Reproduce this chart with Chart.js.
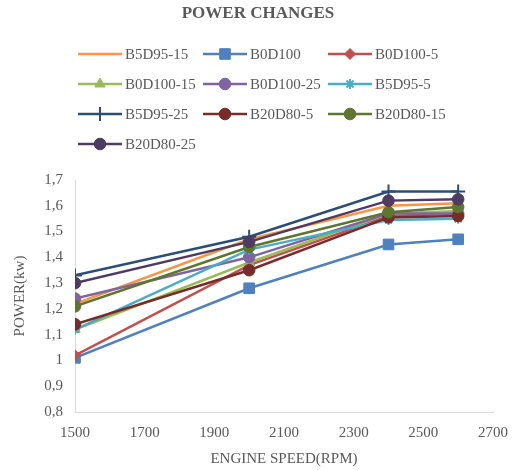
<!DOCTYPE html>
<html>
<head>
<meta charset="utf-8">
<script src="https://cdn.jsdelivr.net/npm/chart.js@4/dist/chart.umd.min.js"></script>
<style>
  body { margin: 0; background: #fff; }
  #wrap { width: 515px; height: 470px; position: relative; }
</style>
</head>
<body>
<div id="wrap"><canvas id="myChart"></canvas></div>
<script>
// engine speed values (x) and power for each blend (y)
let rpm = [1500, 2000, 2400, 2600]

let b5d95_15  = [1.22, 1.47, 1.60, 1.61]
let b0d100    = [1.01, 1.28, 1.45, 1.47]
let b0d100_5  = [1.02, 1.37, 1.56, 1.57]
let b0d100_15 = [1.12, 1.38, 1.57, 1.58]
let b0d100_25 = [1.24, 1.40, 1.57, 1.57]
let b5d95_5   = [1.12, 1.43, 1.545, 1.55]
let b5d95_25  = [1.33, 1.48, 1.655, 1.655]
let b20d80_5  = [1.14, 1.35, 1.555, 1.56]
let b20d80_15 = [1.21, 1.44, 1.575, 1.595]
let b20d80_25 = [1.30, 1.46, 1.62, 1.625]

let labels = ['B5D95-15', 'B0D100', 'B0D100-5', 'B0D100-15', 'B0D100-25',
              'B5D95-5', 'B5D95-25', 'B20D80-5', 'B20D80-15', 'B20D80-25']
let series = [b5d95_15, b0d100, b0d100_5, b0d100_15, b0d100_25,
              b5d95_5, b5d95_25, b20d80_5, b20d80_15, b20d80_25]

let colors = ['#F79646', '#4F81BD', '#C0504D', '#9BBB59', '#8064A2',
              '#4BACC6', '#2C4D75', '#772C2A', '#5F7530', '#4D3B62']
let markers = [false, 'rect', 'rectRot', 'triangle', 'circle',
               'star', 'cross', 'circle', 'circle', 'circle']
let sizes = [0, 7.5, 5.5, 6, 5.8, 5, 7, 5.8, 5.8, 5.8]

let textColor = '#595959'
let serif = '"Liberation Serif", "Times New Roman", serif'

let datasets = series.map(function (vals, i) {
    let stroked = markers[i] === 'star' || markers[i] === 'cross'
    return {
        label: labels[i],
        data: vals.map(function (v, k) { return {x: rpm[k], y: v} }),
        borderColor: colors[i],
        backgroundColor: colors[i],
        borderWidth: 2.5,
        tension: 0,
        pointStyle: markers[i],
        pointRadius: sizes[i],
        pointBackgroundColor: colors[i],
        pointBorderColor: colors[i],
        pointBorderWidth: stroked ? 2 : 1,
        order: series.length - i
    }
})

// title + 3 column legend drawn on the canvas
let headerPlugin = {
    id: 'header',
    afterDraw: function (chart) {
        let ctx = chart.ctx
        ctx.save()
        ctx.fillStyle = textColor
        ctx.font = 'bold 17px ' + serif
        ctx.textAlign = 'center'
        ctx.textBaseline = 'middle'
        ctx.fillText('POWER CHANGES', 258, 14)

        let colX = [78, 203, 328]
        let rowY = [54, 84, 114, 144]
        ctx.font = '15px ' + serif
        ctx.textAlign = 'left'
        labels.forEach(function (name, i) {
            let x = colX[i % 3]
            let y = rowY[Math.floor(i / 3)]
            ctx.strokeStyle = colors[i]
            ctx.fillStyle = colors[i]
            ctx.lineWidth = 2.5
            ctx.beginPath()
            ctx.moveTo(x, y)
            ctx.lineTo(x + 44, y)
            ctx.stroke()
            if (markers[i]) {
                ctx.lineWidth = datasets[i].pointBorderWidth
                Chart.helpers.drawPoint(ctx, {
                    pointStyle: markers[i],
                    radius: sizes[i],
                    rotation: 0,
                    borderWidth: datasets[i].pointBorderWidth
                }, x + 22, y)
            }
            ctx.fillStyle = textColor
            ctx.fillText(name, x + 47, y + 1)
        })
        ctx.restore()
    }
}

let options = {
    responsive: true,
    maintainAspectRatio: false,
    animation: false,
    layout: { padding: { top: 180, right: 22, bottom: 0, left: 0 } },
    plugins: {
        legend: { display: false },
        title: { display: false },
        tooltip: { enabled: false }
    },
    scales: {
        x: {
            type: 'linear',
            min: 1500,
            max: 2700,
            afterFit: function (scale) {
                scale.height = 58
                scale.paddingLeft = 0
                scale.paddingRight = 0
            },
            grid: { display: false, drawTicks: false },
            border: { display: true, color: '#D9D9D9', width: 1 },
            ticks: {
                stepSize: 200,
                padding: 12,
                color: textColor,
                font: { family: serif, size: 15 },
                maxRotation: 0,
                callback: function (v) { return String(v) }
            },
            title: {
                display: true,
                text: 'ENGINE SPEED(RPM)',
                color: textColor,
                font: { family: serif, size: 15 },
                padding: { top: 0, bottom: 2 }
            }
        },
        y: {
            min: 0.8,
            max: 1.7,
            afterFit: function (scale) {
                scale.width = 75
                scale.paddingTop = 0
                scale.paddingBottom = 0
            },
            grid: { display: false, drawTicks: false },
            border: { display: true, color: '#D9D9D9', width: 1 },
            ticks: {
                stepSize: 0.1,
                padding: 12,
                color: textColor,
                font: { family: serif, size: 15 },
                callback: function (v) {
                    return String(Number(v.toFixed(1))).replace('.', ',')
                }
            },
            title: {
                display: true,
                text: 'POWER(kw)',
                color: textColor,
                font: { family: serif, size: 15 },
                padding: { top: 11, bottom: 0 }
            }
        }
    }
}

let myChart = new Chart(document.getElementById('myChart'), {
    type: 'line',
    data: { datasets: datasets },
    options: options,
    plugins: [headerPlugin]
})
</script>
</body>
</html>
